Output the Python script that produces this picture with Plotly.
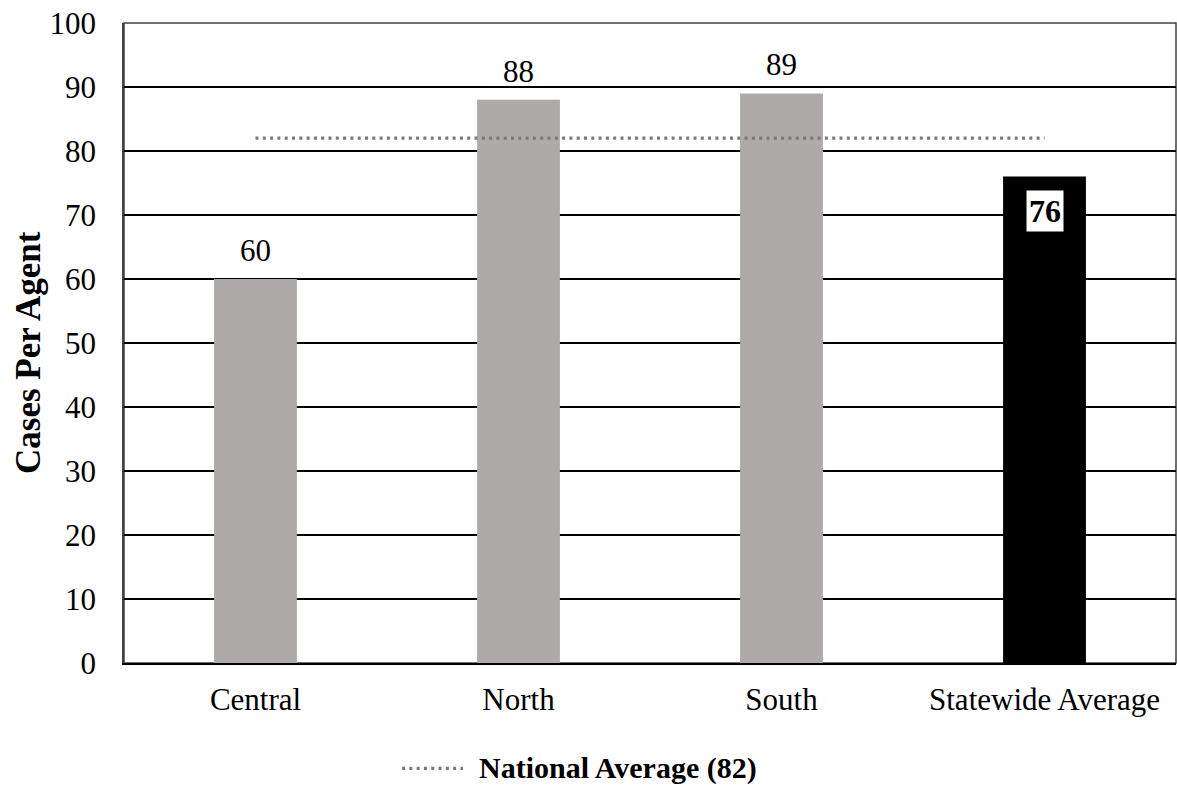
import plotly.graph_objects as go

categories = ["Central", "North", "South", "Statewide Average"]
cases_per_agent = [60, 88, 89, 76]
bar_colors = ["#AEAAAA", "#AEAAAA", "#AEAAAA", "#000000"]
national_average = 82
national_label = f"National Average ({national_average})"
y_title = "Cases Per Agent"
y_ticks = [0, 10, 20, 30, 40, 50, 60, 70, 80, 90, 100]

FONT = "Liberation Serif, Times New Roman, serif"
DOT_COLOR = "#7A7A7A"
DOT_DASH = "3px,4.3px"

fig = go.Figure()

fig.add_trace(go.Bar(
    x=categories, y=cases_per_agent,
    marker=dict(color=bar_colors, line=dict(width=0)),
    width=0.315,
    showlegend=False, hoverinfo="x+y",
))

fig.add_trace(go.Scatter(
    x=categories, y=[national_average] * len(categories),
    mode="lines",
    line=dict(color=DOT_COLOR, width=3.2, dash=DOT_DASH),
    name=national_label,
    showlegend=False,
))

# value labels
for cat, val, col in zip(categories, cases_per_agent, bar_colors):
    if col == "#000000":
        fig.add_annotation(
            x=cat, y=val, text=f"<b>{val}</b>",
            showarrow=False, yanchor="top", yshift=-13,
            bgcolor="#FFFFFF", borderpad=2,
            font=dict(family=FONT, size=32, color="#000000"),
        )
    else:
        fig.add_annotation(
            x=cat, y=val, text=str(val),
            showarrow=False, yanchor="bottom", yshift=9,
            font=dict(family=FONT, size=31, color="#000000"),
        )

# legend (drawn manually to match the long dotted sample)
leg_y = -0.1645
fig.add_shape(type="line", xref="paper", yref="paper",
              x0=0.2643, x1=0.3222, y0=leg_y, y1=leg_y,
              line=dict(color=DOT_COLOR, width=3.2, dash=DOT_DASH))
fig.add_annotation(xref="paper", yref="paper", x=0.3356, y=leg_y,
                   xanchor="left", yanchor="middle", showarrow=False,
                   text=f"<b>{national_label}</b>",
                   font=dict(family=FONT, size=30, color="#000000"))

# y axis title
fig.add_annotation(xref="paper", yref="paper", x=0, y=0.5, xshift=-96, yshift=-10,
                   xanchor="center", yanchor="middle", showarrow=False, textangle=-90,
                   text=f"<b>{y_title}</b>",
                   font=dict(family=FONT, size=35, color="#000000"))

# plot frame
fig.add_shape(type="rect", xref="paper", yref="paper", x0=0, x1=1, y0=0, y1=1,
              line=dict(color="#404040", width=1.5), layer="below")

fig.update_layout(
    width=1177, height=786,
    margin=dict(l=124, r=1, t=23, b=123, autoexpand=False),
    paper_bgcolor="#FFFFFF", plot_bgcolor="#FFFFFF",
    font=dict(family=FONT, size=31, color="#000000"),
    showlegend=False,
    xaxis=dict(
        showline=True, linecolor="#000000", linewidth=2,
        ticks="", ticklabelstandoff=8,
        tickfont=dict(family=FONT, size=31),
        showgrid=False, fixedrange=True,
    ),
    yaxis=dict(
        range=[0, 100], tickvals=y_ticks,
        showgrid=True, gridcolor="#000000", gridwidth=1.6,
        showline=True, linecolor="#404040", linewidth=1.5,
        ticks="", ticklabelstandoff=20,
        tickfont=dict(family=FONT, size=31),
        zeroline=False,
    ),
)

fig.write_html(
    "out.html",
    config={"displayModeBar": False},
    post_script="document.body.style.margin='0';document.body.style.overflow='hidden';document.documentElement.style.overflow='hidden';",
)
